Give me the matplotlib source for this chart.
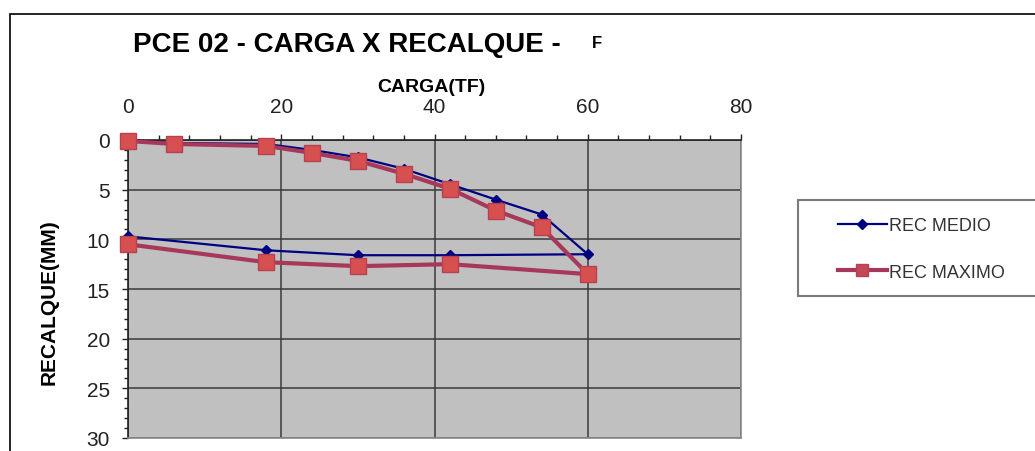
import matplotlib
matplotlib.use("Agg")
import matplotlib.pyplot as plt
from matplotlib.ticker import MultipleLocator
from matplotlib.patches import Rectangle
from matplotlib.lines import Line2D

plt.rcParams['font.family'] = ['Liberation Sans', 'DejaVu Sans']

# Data (carga in TF, recalque in mm)
carga = [0, 6, 18, 24, 30, 36, 42, 48, 54, 60, 42, 30, 18, 0]
rec_medio = [0.0, 0.3, 0.4, 1.0, 1.75, 2.9, 4.45, 6.0, 7.5, 11.5, 11.6, 11.6, 11.1, 9.7]
rec_maximo = [0.1, 0.4, 0.6, 1.3, 2.1, 3.4, 4.9, 7.1, 8.8, 13.5, 12.5, 12.7, 12.3, 10.5]

series_names = ['REC MEDIO', 'REC MAXIMO']
title = 'PCE 02 - CARGA X RECALQUE -'
x_label = 'CARGA(TF)'
y_label = 'RECALQUE(MM)'

W, H = 1035, 452
fig = plt.figure(figsize=(W / 100, H / 100), dpi=100)
fig.patch.set_facecolor('white')

def fx(px):
    return px / W

def fy(py):
    return 1 - py / H

# outer frame
fig.patches.append(Rectangle((fx(10), fy(470)), fx(1040) - fx(10), fy(15) - fy(470),
                             transform=fig.transFigure, fill=False, edgecolor='black',
                             linewidth=1.2, clip_on=False))

ax = fig.add_axes([fx(128), fy(439), fx(741) - fx(128), fy(141) - fy(439)])
ax.set_facecolor('#C0C0C0')
ax.set_xlim(0, 80)
ax.set_ylim(30, 0)

ax.xaxis.tick_top()
ax.xaxis.set_major_locator(MultipleLocator(20))
ax.xaxis.set_minor_locator(MultipleLocator(4))
ax.yaxis.set_major_locator(MultipleLocator(5))
ax.yaxis.set_minor_locator(MultipleLocator(1))
ax.tick_params(axis='x', which='major', length=4, width=1, pad=13, labelsize=15, colors='#222222')
ax.tick_params(axis='x', which='minor', length=3.5, width=1, colors='#222222')
ax.tick_params(axis='y', which='major', length=4, width=1, pad=9, labelsize=15, colors='#222222')
ax.tick_params(axis='y', which='minor', length=3, width=1, colors='#222222')

ax.grid(True, which='major', color='#3a3a3a', linewidth=1.1)
ax.set_axisbelow(True)

for s in ['left', 'top']:
    ax.spines[s].set_color('#222222')
    ax.spines[s].set_linewidth(1.2)
for s in ['right', 'bottom']:
    ax.spines[s].set_color('#8a8a8a')
    ax.spines[s].set_linewidth(1.2)

ax.plot(carga, rec_medio, color='#000080', linewidth=1.6, marker='D', markersize=5,
        markerfacecolor='#000080', markeredgecolor='#000080', label=series_names[0],
        clip_on=False, zorder=3)
ax.plot(carga, rec_maximo, color='#A8385A', linewidth=3, marker='s', markersize=11,
        markerfacecolor='#D65050', markeredgecolor='#B84050', label=series_names[1],
        clip_on=False, zorder=4)

fig.text(fx(133), fy(45), title, fontsize=20, fontweight='bold', ha='left', va='center')
fig.text(fx(592), fy(44), 'F', fontsize=12, fontweight='bold', ha='left', va='center')
fig.text(fx(431), fy(87), x_label, fontsize=14, fontweight='bold', ha='center', va='center')
fig.text(fx(49), fy(302), y_label, fontsize=15, fontweight='bold', ha='center', va='center',
         rotation=90)

# legend box
fig.patches.append(Rectangle((fx(798), fy(297)), fx(1045) - fx(798), fy(201) - fy(297),
                             transform=fig.transFigure, facecolor='white', edgecolor='#7a7a7a',
                             linewidth=1.5, clip_on=False, zorder=1))
handles = [
    Line2D([], [], color='#000080', linewidth=1.6, marker='D', markersize=5,
           markerfacecolor='#000080'),
    Line2D([], [], color='#A8385A', linewidth=3, marker='s', markersize=8,
           markerfacecolor='#C04858', markeredgecolor='#B84050'),
]
leg = fig.legend(handles, series_names, loc='upper left',
                 bbox_to_anchor=(fx(838), fy(218)), bbox_transform=fig.transFigure,
                 frameon=False, fontsize=13, handlelength=2.7, handletextpad=0.15,
                 labelspacing=1.65, borderpad=0, borderaxespad=0)
for t in leg.get_texts():
    t.set_color('#333333')
leg.set_zorder(5)

fig.savefig('out.png', dpi=100)
